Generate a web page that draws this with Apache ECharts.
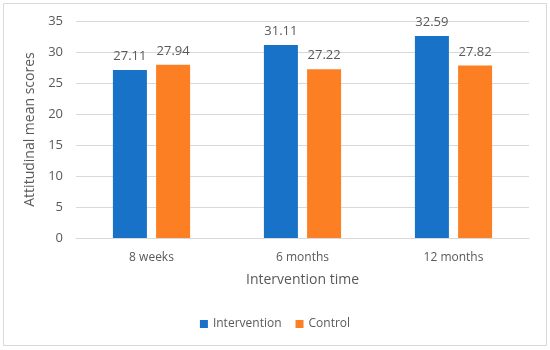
<!DOCTYPE html>
<html><head><meta charset="utf-8">
<script src="https://cdn.jsdelivr.net/npm/echarts@6/dist/echarts.min.js"></script>
<style>html,body{margin:0;padding:0;background:#fff}#c{width:550px;height:350px}</style>
</head><body><div id="c"></div>
<script>
const categories = ['8 weeks', '6 months', '12 months'];
const intervention = [27.11, 31.11, 32.59];
const control = [27.94, 27.22, 27.82];
const yTicks = [0, 5, 10, 15, 20, 25, 30, 35];

const txt = '#595959';
const font = 'Open Sans';
const chart = echarts.init(document.getElementById('c'), null, {renderer: 'canvas'});
chart.setOption({
  animation: false,
  textStyle: {fontFamily: font, color: txt},
  graphic: [{type: 'rect', shape: {x: 3.5, y: 3.5, width: 543, height: 342}, style: {fill: 'none', stroke: '#d9d9d9', lineWidth: 1}}],
  grid: {left: 76, right: 21, top: 21, bottom: 112},
  legend: {
    bottom: 15, left: 'center', itemWidth: 8, itemHeight: 8, itemGap: 14,
    icon: 'rect', textStyle: {color: txt, fontSize: 12, fontFamily: font},
    data: ['Intervention', 'Control']
  },
  xAxis: {
    type: 'category', data: categories,
    name: 'Intervention time', nameLocation: 'middle', nameGap: 35,
    nameTextStyle: {color: txt, fontSize: 14, fontFamily: font},
    axisLine: {lineStyle: {color: '#d9d9d9'}}, axisTick: {show: false},
    axisLabel: {color: txt, fontSize: 12, margin: 14, fontFamily: font}
  },
  yAxis: {
    type: 'value', min: yTicks[0], max: yTicks[yTicks.length - 1], interval: 5,
    name: 'Attitudinal mean scores', nameLocation: 'middle', nameGap: 33,
    nameTextStyle: {color: txt, fontSize: 14, fontFamily: font},
    axisLine: {show: false}, axisTick: {show: false},
    axisLabel: {color: txt, fontSize: 13, margin: 13, fontFamily: font},
    splitLine: {lineStyle: {color: '#d9d9d9'}}
  },
  series: [
    {name: 'Intervention', type: 'bar', data: intervention, barWidth: 34, barGap: '27%',
     itemStyle: {color: '#1872C8'},
     label: {show: true, position: 'top', distance: 7, color: txt, fontSize: 13, fontFamily: font}},
    {name: 'Control', type: 'bar', data: control, barWidth: 34,
     itemStyle: {color: '#FD7F23'},
     label: {show: true, position: 'top', distance: 7, color: txt, fontSize: 13, fontFamily: font}}
  ]
});
</script></body></html>
